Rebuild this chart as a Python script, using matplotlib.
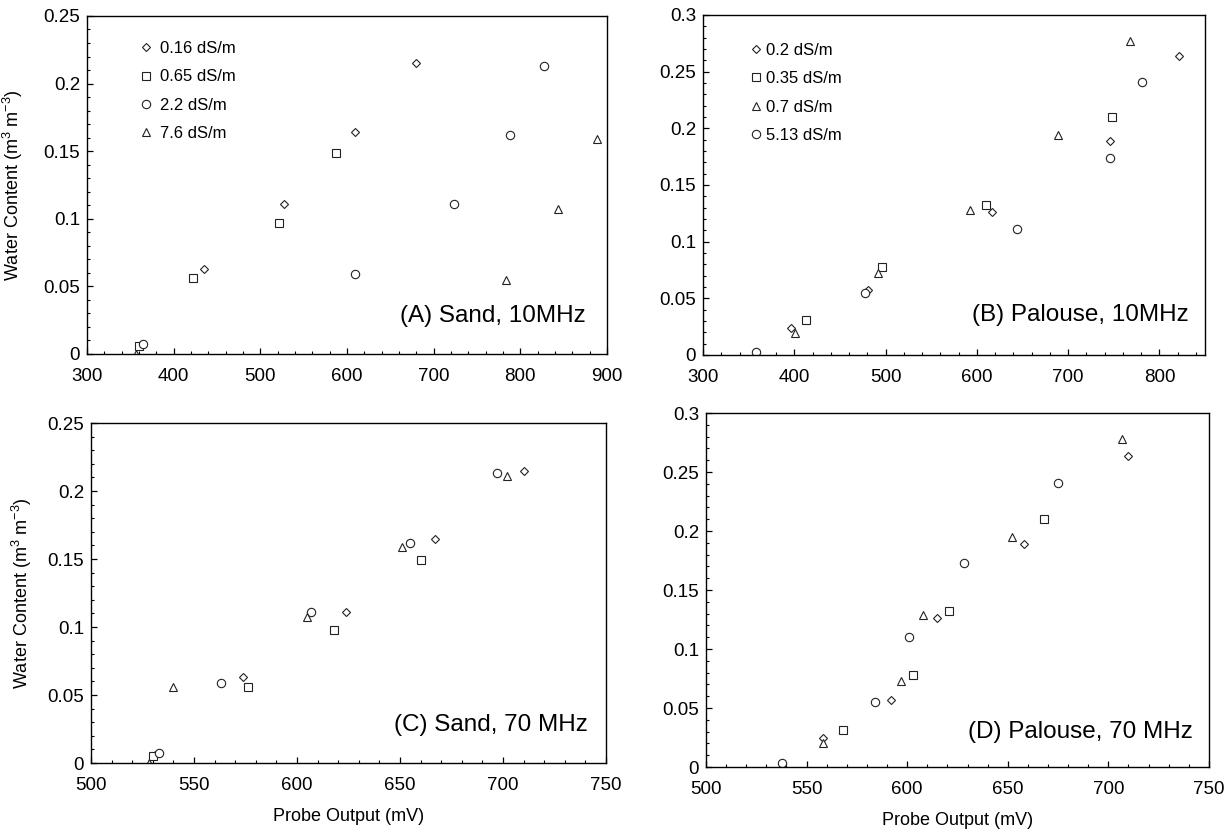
import numpy as np
import matplotlib.pyplot as plt
from matplotlib.ticker import MultipleLocator

plt.rcParams['font.family'] = ['Liberation Sans', 'DejaVu Sans']
plt.rcParams['mathtext.default'] = 'regular'

# (A) Sand, 10 MHz
sand_labels = ['0.16 dS/m', '0.65 dS/m', '2.2 dS/m', '7.6 dS/m']
a_x = [[362, 435, 527, 609, 680],
       [360, 422, 522, 587],
       [365, 609, 723, 788, 827],
       [357, 783, 843, 888]]
a_y = [[0.006, 0.063, 0.111, 0.164, 0.215],
       [0.006, 0.056, 0.097, 0.149],
       [0.007, 0.059, 0.111, 0.162, 0.213],
       [0.000, 0.055, 0.107, 0.159]]

# (B) Palouse, 10 MHz
pal_labels = ['0.2 dS/m', '0.35 dS/m', '0.7 dS/m', '5.13 dS/m']
b_x = [[396, 481, 617, 746, 821],
       [413, 496, 610, 748],
       [401, 492, 593, 689, 768],
       [358, 478, 644, 746, 781]]
b_y = [[0.024, 0.057, 0.126, 0.189, 0.264],
       [0.031, 0.078, 0.132, 0.210],
       [0.019, 0.072, 0.128, 0.194, 0.277],
       [0.003, 0.055, 0.111, 0.174, 0.241]]

# (C) Sand, 70 MHz
c_x = [[531, 574, 624, 667, 710],
       [530, 576, 618, 660],
       [533, 563, 607, 655, 697],
       [528, 540, 605, 651, 702]]
c_y = [[0.006, 0.063, 0.111, 0.165, 0.215],
       [0.005, 0.056, 0.098, 0.149],
       [0.007, 0.059, 0.111, 0.162, 0.213],
       [0.000, 0.056, 0.107, 0.159, 0.211]]

# (D) Palouse, 70 MHz
d_x = [[558, 592, 615, 658, 710],
       [568, 603, 621, 668],
       [558, 597, 608, 652, 707],
       [538, 584, 601, 628, 675]]
d_y = [[0.025, 0.057, 0.126, 0.189, 0.264],
       [0.031, 0.078, 0.132, 0.210],
       [0.020, 0.073, 0.129, 0.195, 0.278],
       [0.003, 0.055, 0.110, 0.173, 0.241]]

sand_markers = ['D', 's', 'o', '^']
sand_sizes = [4.5, 6, 6, 6]
pal_markers = ['D', 's', '^', 'o']
pal_sizes = [4.5, 6, 6, 6]

fig = plt.figure(figsize=(12.31, 8.36), dpi=100)
axA = fig.add_axes([0.0707, 0.5766, 0.4224, 0.4043])
axB = fig.add_axes([0.5711, 0.5754, 0.4078, 0.4067])
axC = fig.add_axes([0.0739, 0.0873, 0.4184, 0.4067])
axD = fig.add_axes([0.5735, 0.0825, 0.4086, 0.4234])


def draw(ax, xs, ys, markers, sizes, labels):
    for x, y, m, s, lab in zip(xs, ys, markers, sizes, labels):
        ax.plot(x, y, linestyle='none', marker=m, markersize=s,
                markerfacecolor='white', markeredgecolor='#222222',
                markeredgewidth=0.8, label=lab)


def style(ax, xlim, ylim, xmaj, xmin, ymaj):
    ax.set_xlim(*xlim)
    ax.set_ylim(*ylim)
    ax.xaxis.set_major_locator(MultipleLocator(xmaj))
    ax.xaxis.set_minor_locator(MultipleLocator(xmin))
    ax.yaxis.set_major_locator(MultipleLocator(ymaj))
    ax.yaxis.set_minor_locator(MultipleLocator(0.01))
    ax.tick_params(which='both', direction='in', top=False, right=False,
                   labelsize=13.5)
    ax.tick_params(which='major', length=4, width=0.9)
    ax.tick_params(which='minor', length=2.5, width=0.8)
    ax.tick_params(axis='x', pad=10)
    ax.tick_params(axis='y', pad=5)
    ax.yaxis.set_major_formatter(plt.FuncFormatter(lambda v, p: f'{v:g}'))
    for sp in ax.spines.values():
        sp.set_linewidth(1.0)


def panel_label(ax, txt, x, y):
    ax.text(x, y, txt, transform=ax.transAxes, ha='right', va='center',
            fontsize=17.5)


ylab = 'Water Content (m$^3$ m$^{-3}$)'

draw(axA, a_x, a_y, sand_markers, sand_sizes, sand_labels)
style(axA, (300, 900), (0, 0.25), 100, 20, 0.05)
axA.legend(loc='upper left', bbox_to_anchor=(0.069, 0.97), frameon=False,
           fontsize=12, labelspacing=0.8, handletextpad=0.35,
           handlelength=1.0)
panel_label(axA, '(A) Sand, 10MHz', 0.96, 0.112)
axA.set_ylabel(ylab, fontsize=13)
axA.yaxis.set_label_coords(-0.119, 0.5)

draw(axB, b_x, b_y, pal_markers, pal_sizes, pal_labels)
style(axB, (300, 850), (0, 0.3), 100, 20, 0.05)
axB.legend(loc='upper left', bbox_to_anchor=(0.06, 0.962), frameon=False,
           fontsize=12, labelspacing=0.8, handletextpad=0.05,
           handlelength=1.0)
panel_label(axB, '(B) Palouse, 10MHz', 0.968, 0.118)

draw(axC, c_x, c_y, sand_markers, sand_sizes, sand_labels)
style(axC, (500, 750), (0, 0.25), 50, 10, 0.05)
panel_label(axC, '(C) Sand, 70 MHz', 0.965, 0.112)
axC.set_ylabel(ylab, fontsize=13)
axC.yaxis.set_label_coords(-0.111, 0.5)
axC.set_xlabel('Probe Output (mV)', fontsize=13, labelpad=10)

draw(axD, d_x, d_y, pal_markers, pal_sizes, pal_labels)
style(axD, (500, 750), (0, 0.3), 50, 10, 0.05)
panel_label(axD, '(D) Palouse, 70 MHz', 0.968, 0.099)
axD.set_xlabel('Probe Output (mV)', fontsize=13, labelpad=10)

fig.savefig('out.png', dpi=100)
